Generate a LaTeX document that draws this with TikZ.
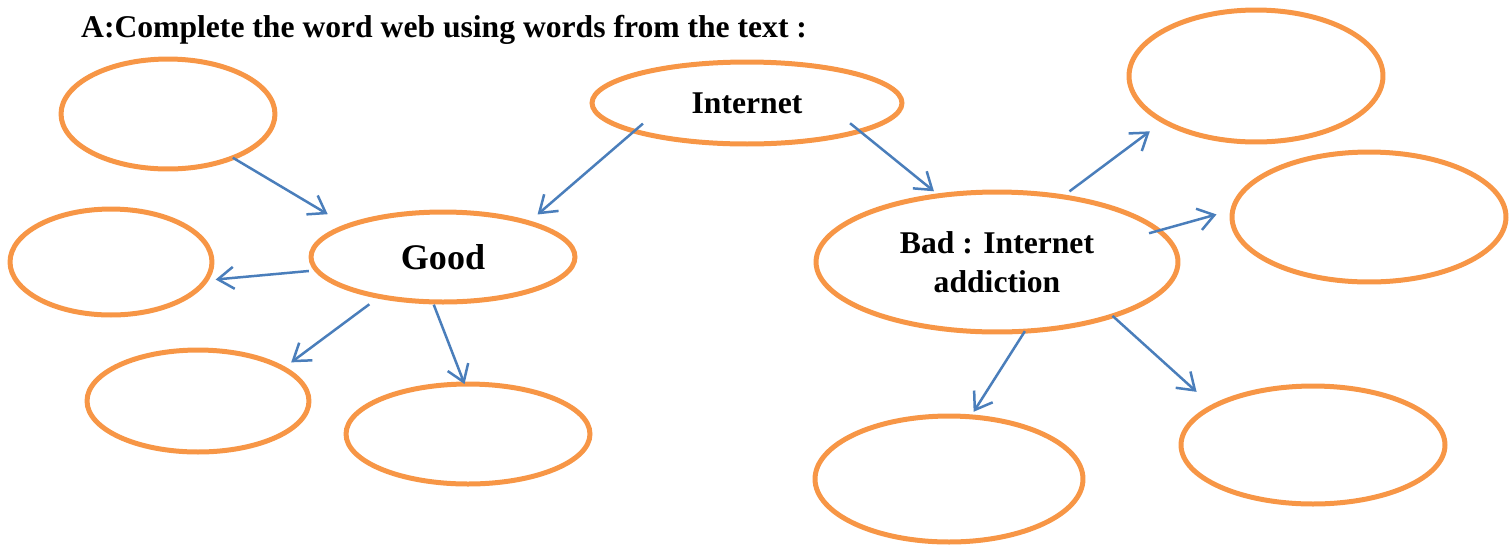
\documentclass[tikz,border=0pt]{standalone}
\usepackage{fontspec}
\setmainfont{Liberation Serif}
\usepackage{tikz}
\usetikzlibrary{shapes.geometric, arrows.meta}
\definecolor{weborange}{HTML}{F79646}
\definecolor{webblue}{HTML}{4A7EBB}

\begin{document}
\begin{tikzpicture}[x=0.02cm, y=-0.02cm,
    bubble/.style={ellipse, draw=weborange, line width=1mm, inner sep=0pt, outer sep=0pt,
        font=\bfseries\fontsize{18}{22}\selectfont, align=center},
    link/.style={draw=webblue, line width=0.5mm, -{Straight Barb[length=3.2mm, width=4.4mm]}}]
    \useasboundingbox (0,0) rectangle (1510,549);

    % Heading
    \path (75,37) node[anchor=base west, font=\bfseries\fontsize{18}{22}\selectfont] (title)
        {A:Complete the word web using words from the text :};

    % Centre nodes
    \path
    (747,103) node[bubble, minimum width=62mm, minimum height=16.4mm] (inet) {Internet}
    (443,257) node[bubble, minimum width=52.8mm, minimum height=18mm,
        font=\bfseries\fontsize{20.5}{24}\selectfont] (good) {Good}
    (997,262) node[bubble, minimum width=72.4mm, minimum height=28mm] (bad) {Bad : Internet\\addiction}
    ;

    % Empty nodes (good side)
    \path
    (168,114) node[bubble, minimum width=42.8mm, minimum height=22mm] (tl) {}
    (111,262) node[bubble, minimum width=40.4mm, minimum height=21.2mm] (ml) {}
    (198,401) node[bubble, minimum width=44.4mm, minimum height=20.4mm] (bl) {}
    (468,434) node[bubble, minimum width=48.8mm, minimum height=20mm] (bc) {}
    ;

    % Empty nodes (bad side)
    \path
    (1256,76) node[bubble, minimum width=50.8mm, minimum height=26.4mm] (tr) {}
    (1369,217) node[bubble, minimum width=54.8mm, minimum height=26mm] (mr) {}
    (1313,445) node[bubble, minimum width=52.8mm, minimum height=23.6mm] (br) {}
    (949,479) node[bubble, minimum width=53.6mm, minimum height=25.2mm] (bm) {}
    ;

    % Edges
    \draw[link, shorten <=-2.3mm, shorten >=2.5mm] (inet.194) -- (good.22);
    \draw[link, shorten <=-2.5mm, shorten >=1.4mm] (inet.346) -- (bad.131);
    \draw[link, shorten >=4.6mm] (tl.326) -- (good.162);
    \draw[link, shorten <=1.6mm, shorten >=2mm] (good.186) -- (ml.349);
    \draw[link, shorten <=2.6mm, shorten >=2mm] (good.212) -- (bl.21);
    \draw[link, shorten <=0.6mm] (good.257) -- (bc.94);
    \draw[link, shorten <=1.8mm, shorten >=3.4mm] (bad.45) -- (tr.206);
    \draw[link, shorten <=-2mm, shorten >=3.4mm] (bad.11) -- (mr.177);
    \draw[link, shorten >=1.2mm] (bad.292) -- (bm.71);
    \draw[link, shorten >=4.4mm] (bad.335) -- (br.159);

\end{tikzpicture}
\end{document}
